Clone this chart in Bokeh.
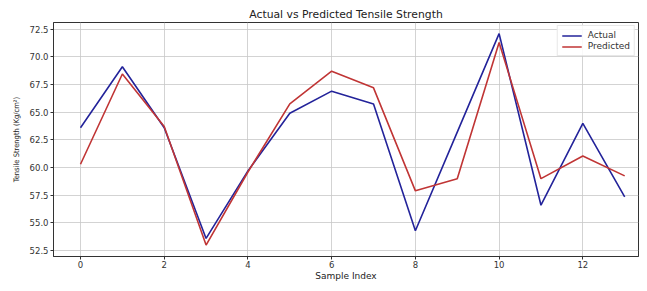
from bokeh.plotting import figure
from bokeh.models import Range1d, FixedTicker, Legend, LegendItem
from bokeh.embed import file_html
from bokeh.resources import INLINE

sample_index = list(range(14))
actual = [63.6, 69.1, 63.6, 53.6, 59.7, 64.9, 66.9, 65.75, 54.3, 63.2, 72.1, 56.6, 64.0, 57.35]
predicted = [60.3, 68.45, 63.7, 53.0, 59.6, 65.75, 68.7, 67.2, 57.9, 59.0, 71.3, 59.0, 61.05, 59.25]
x_ticks = [0, 2, 4, 6, 8, 10, 12]
y_ticks = [52.5, 55.0, 57.5, 60.0, 62.5, 65.0, 67.5, 70.0, 72.5]

FONT = "DejaVu Sans"
TXT = "#333333"

p = figure(width=639, height=283, output_backend="svg", toolbar_location=None,
           x_range=Range1d(-0.645, 13.33), y_range=Range1d(51.97, 73.1),
           min_border_left=53, min_border_right=1, min_border_top=22, min_border_bottom=24)

p.title.text = "Actual vs Predicted Tensile Strength"
p.title.align = "center"
p.title.text_font = FONT
p.title.text_font_size = "10.8px"
p.title.text_font_style = "normal"
p.title.text_color = "#222222"
p.title.vertical_align = "bottom"
p.title.standoff = 3
p.title.offset = 0

p.background_fill_color = "white"
p.border_fill_color = "white"
p.outline_line_color = "#333333"
p.outline_line_width = 1

p.xaxis.ticker = FixedTicker(ticks=x_ticks)
p.yaxis.ticker = FixedTicker(ticks=y_ticks)
p.yaxis.major_label_overrides = {t: f"{t:.1f}" for t in y_ticks}
p.xaxis.axis_label = "Sample Index"
p.yaxis.axis_label = "Tensile Strength (Kg/cm²)"
for ax in (p.xaxis[0], p.yaxis[0]):
    ax.major_label_text_font = FONT
    ax.major_label_text_font_size = "8.5px"
    ax.major_label_text_color = TXT
    ax.axis_label_text_font = FONT
    ax.axis_label_text_font_size = "9px"
    ax.axis_label_text_font_style = "normal"
    ax.axis_label_text_color = "#222222"
    ax.axis_line_color = "#333333"
    ax.major_tick_line_color = "#333333"
    ax.major_tick_out = 3
    ax.major_tick_in = 0
    ax.minor_tick_line_color = None
    ax.major_label_standoff = 2
    ax.axis_label_standoff = 2
p.xaxis.major_label_standoff = 1
p.xaxis.axis_label_standoff = 0
p.yaxis.axis_label_text_font = "DejaVu Sans Condensed"
p.yaxis.axis_label_text_font_size = "7.5px"
p.yaxis.axis_label_standoff = 6

p.grid.grid_line_color = "#c8c8c8"
p.grid.grid_line_width = 0.8

r1 = p.line(sample_index, actual, line_color="#23239a", line_width=1.6)
r2 = p.line(sample_index, predicted, line_color="#c03535", line_width=1.6)

legend = Legend(items=[LegendItem(label="Actual", renderers=[r1]),
                       LegendItem(label="Predicted", renderers=[r2])],
                location="top_right")
legend.label_text_font = FONT
legend.label_text_font_size = "9px"
legend.label_text_color = TXT
legend.glyph_width = 20
legend.glyph_height = 9
legend.label_height = 9
legend.spacing = 1
legend.padding = 4
legend.margin = 3
legend.border_line_color = "#d0d0d0"
legend.border_line_width = 1
legend.background_fill_alpha = 0.85
legend.label_standoff = 6
p.add_layout(legend)

open("out.html", "w").write(file_html(p, INLINE))
